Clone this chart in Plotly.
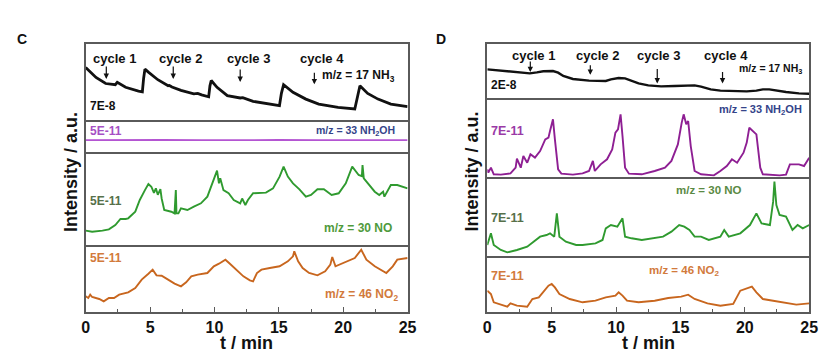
import plotly.graph_objects as go

# ---------------- DATA (intensities in a.u., 0-100 per strip) ----------------
# Panel C
c_nh3_t = [0, 0.8, 1.55, 2.3, 2.45, 2.6, 3.1, 4.1, 4.4, 4.5, 4.6, 4.87, 5.6, 6.4, 6.5, 6.7, 7.4, 8.4, 8.7, 9.0, 9.55, 9.65, 9.75,
           10.2, 11, 12, 12.2, 13, 14, 15.05, 15.2, 15.37, 16.1, 17.1, 18.1, 19.6, 20.9, 21.1, 21.3, 21.9, 22.7, 23.7, 25]
c_nh3_v = [69, 56, 48, 46.5, 49.5, 48, 43, 38, 37, 55, 67, 63, 53, 45, 45.5, 43.5, 39, 34.5, 35, 33, 30.5, 45, 52,
           43, 32, 29, 29.5, 24.5, 22, 19, 35, 46.5, 36.5, 27.5, 21, 16.5, 14.5, 30, 45, 35, 27.5, 21, 17.5]

c_nh2oh_t = [0, 3, 6, 9, 12, 15, 18, 21, 25]
c_nh2oh_v = [37, 38, 37.5, 37, 38, 37.5, 37, 37.5, 37]

c_no_t = [0, 0.5, 1.3, 1.8, 2.3, 2.7, 3.1, 3.3, 3.85, 4.2, 4.6, 4.87, 5.1, 5.3, 5.45, 5.6, 5.8, 5.9, 6.1, 6.65, 6.9, 7.0,
          7.05, 7.2, 7.4, 7.9, 8.4, 8.95, 9.45, 9.85, 10.1, 10.2, 10.35, 10.45, 10.7, 11.1, 11.5, 12, 12.15, 12.4, 12.6,
          13, 14, 14.55, 15.06, 15.37, 15.7, 16.1, 16.6, 17.1, 17.5, 18, 18.5, 19.1, 19.65, 20.2, 20.7, 21.2, 21.45,
          21.5, 21.6, 21.9, 22.45, 22.8, 23.1, 23.2, 23.7, 24.2, 25]
c_no_v = [15.4, 14.3, 15.4, 16.8, 21.5, 28, 28, 28.7, 35.8, 48.4, 59, 65.6, 62.7, 56, 61, 54, 60, 50, 37.6, 35.8, 34, 59,
          34, 34, 39.4, 37.6, 41.2, 44.8, 52, 66.3, 75, 80, 66.3, 71.7, 59, 55.6, 48.4, 44.8, 50, 43, 48.4,
          55.6, 56.3, 60.9, 73.5, 84.2, 73.5, 66.3, 59.9, 52, 53.8, 59.9, 59.9, 53.8, 55.6, 66.3, 84.2, 75.3, 74,
          86, 71.7, 66.3, 57.3, 53.8, 57.3, 52, 64.5, 64.5, 60.9]

c_no2_t = [0, 0.2, 0.35, 0.5, 1.05, 1.4, 1.8, 2.2, 2.6, 3.3, 3.85, 4.35, 4.87, 5.2, 5.5, 5.9, 6.4, 6.9, 7.4, 7.8, 8.2, 8.7,
           9.45, 9.95, 10.35, 10.85, 11.2, 11.7, 12.25, 12.75, 13.0, 13.3, 13.65, 14.3, 15.06, 15.7, 16.1, 16.2, 16.5,
           16.85, 17.35, 18.0, 18.6, 19.0, 19.15, 19.4, 19.9, 20.4, 20.9, 21.4, 21.8, 22.45, 22.95, 23.35, 23.85, 24.2, 25]
c_no2_v = [23.4, 20.9, 25.9, 22.4, 19.4, 15.9, 20.9, 20.9, 25.9, 29.4, 35.8, 48.3, 57.2, 63.2, 54.7, 54.2, 48.3, 42.3, 38.3,
           44.3, 53.2, 55.7, 58.2, 68.2, 72.1, 78.1, 72.1, 63.2, 53.2, 47.3, 45.8, 58.2, 63.2, 65.7, 68.2, 75.6, 83.1,
           90.5, 75.6, 65.7, 58.2, 54.7, 60.7, 70.6, 82.1, 68.2, 72.1, 75.6, 80.6, 93.0, 78.1, 68.2, 63.2, 58.2, 68.2,
           78.1, 80.6]

# Panel D
d_nh3_t = [0, 1.05, 2.3, 3.3, 3.85, 4.35, 5.1, 5.5, 5.9, 6.65, 7.9, 9.2, 9.6, 10.2, 10.7, 11.1, 11.75, 12.5, 13.5, 14.55,
           15.6, 16.1, 16.6, 17.35, 18.1, 19.1, 20.15, 20.9, 21.4, 21.9, 22.45, 23.2, 24.2, 25]
d_nh3_v = [53.1, 50.6, 47.5, 45.7, 47.5, 49.4, 50.0, 46.9, 40.7, 35.2, 32.1, 31.5, 34.6, 37.0, 36.4, 33.3, 27.1, 23.4, 21.6,
           22.2, 22.8, 23.4, 21.0, 16.0, 13.6, 12.3, 12.3, 13.6, 16.0, 16.0, 13.6, 11.1, 8.6, 8.0]

d_nh2oh_t = [0, 0.08, 0.28, 0.5, 1.05, 1.8, 2.2, 2.3, 2.6, 2.8, 3.1, 3.35, 3.7, 4.1, 4.5, 4.75, 4.87, 5.1, 5.25, 5.5, 5.75,
             6.65, 7.4, 7.9, 8.2, 8.35, 8.8, 9.3, 9.7, 9.95, 10.15, 10.35, 10.5, 10.7, 11.0, 12.0, 13.0, 13.8, 14.3, 14.8,
             15.1, 15.25, 15.45, 15.6, 15.8, 16.1, 16.6, 17.6, 18.1, 18.6, 19.0, 19.4, 19.9, 20.15, 20.35, 20.65, 20.9,
             21.2, 21.4, 22.7, 23.2, 23.5, 24.2, 24.6, 25]
d_nh2oh_v = [9.7, 5.5, 11.8, 3.4, 3.0, 4.6, 11.8, 23.2, 11.8, 26.6, 18.1, 28.7, 24.5, 32.9, 47.7, 49.8, 58.2, 73.0, 47.7,
             9.7, 4.2, 3.0, 4.6, 7.6, 20.3, 7.6, 16.0, 22.4, 35.0, 56.1, 60.3, 79.3, 51.9, 11.8, 4.2, 3.4, 7.6, 11.8,
             20.3, 41.3, 68.8, 79.3, 66.7, 70.9, 39.2, 7.6, 3.4, 2.1, 7.6, 13.9, 22.4, 18.1, 30.8, 43.5, 62.4, 58.2,
             54.0, 11.8, 3.4, 2.1, 3.0, 16.0, 16.0, 13.9, 24.5]

d_no_t = [0, 0.28, 0.5, 1.05, 1.55, 2.3, 3.1, 3.6, 4.1, 4.6, 4.87, 5.2, 5.4, 5.6, 6.1, 6.9, 7.4, 8.4, 8.95, 9.2, 9.6,
          10.1, 10.5, 10.7, 11.2, 12.0, 13.0, 13.65, 14.3, 14.9, 15.3, 15.7, 16.1, 16.6, 17.2, 17.6, 18.1, 18.4, 18.75,
          19.65, 20.4, 20.9, 21.3, 21.95, 22.2, 22.3, 22.45, 22.7, 23.2, 23.7, 24.1, 24.5, 25]
d_no_v = [13.9, 28.7, 13.9, 7.6, 4.6, 7.6, 11.8, 18.1, 24.5, 26.6, 28.7, 24.5, 54.0, 24.5, 18.1, 13.9, 13.9, 16.0, 20.3,
          35.0, 39.2, 37.1, 47.7, 24.5, 22.4, 20.3, 22.4, 24.5, 30.8, 39.2, 37.1, 32.9, 24.5, 24.5, 20.3, 22.4, 24.5,
          32.9, 24.5, 28.7, 39.2, 54.0, 41.3, 39.2, 68.8, 94.1, 64.6, 51.9, 49.8, 32.9, 39.2, 35.0, 39.2]

d_no2_t = [0, 0.28, 0.5, 1.05, 1.55, 1.8, 2.3, 3.1, 3.5, 4.0, 4.35, 4.75, 5.0, 5.25, 5.6, 6.4, 7.4, 8.4, 9.2, 9.95,
           10.2, 10.5, 10.85, 11.75, 13.0, 14.05, 15.06, 15.6, 16.1, 17.1, 18.1, 19.1, 19.65, 20.15, 20.55, 20.9, 21.4,
           22.2, 23.2, 24.0, 25]
d_no2_v = [38.1, 32.1, 17.3, 13.1, 9.5, 15.5, 11.3, 9.5, 23.2, 26.2, 35.1, 47.0, 50.0, 44.0, 32.1, 23.2, 17.3, 20.2,
           26.2, 29.2, 35.1, 29.2, 20.2, 17.3, 20.2, 25.0, 27.4, 30.9, 23.2, 15.5, 11.3, 14.3, 38.1, 42.3, 45.2, 35.1,
           23.2, 20.2, 15.5, 13.1, 15.5]

x_ticks = [0, 5, 10, 15, 20, 25]
x_tick_labels = ["0", "5", "10", "15", "20", "25"]

# ---------------- LAYOUT ----------------
W, H = 830, 358
FONT = "Liberation Sans, Arial, sans-serif"
FRAME = "#5a5a5a"

def px(x):
    return x / W

def py(y):
    return 1 - y / H

panels = [
    dict(x0=83, x1=410, rows=[(44, 120), (120, 152), (152, 245), (245, 312)],
         series=[(c_nh3_t, c_nh3_v, "#111111", 2.8), (c_nh2oh_t, c_nh2oh_v, "#b455d2", 1.8),
                 (c_no_t, c_no_v, "#2f9a2f", 1.9), (c_no2_t, c_no2_v, "#c8661e", 1.9)]),
    dict(x0=491, x1=818, rows=[(44, 98), (98, 177), (177, 256), (256, 312)],
         series=[(d_nh3_t, d_nh3_v, "#111111", 2.4), (d_nh2oh_t, d_nh2oh_v, "#8e1f93", 1.9),
                 (d_no_t, d_no_v, "#2f9a2f", 1.9), (d_no2_t, d_no2_v, "#c8661e", 1.9)]),
]

fig = go.Figure()
layout = dict(width=W, height=H, margin=dict(l=0, r=0, t=0, b=0, pad=0), paper_bgcolor="white",
              plot_bgcolor="white", showlegend=False, font=dict(family=FONT, color="#111"))

idx = 0
for p in panels:
    for r, ((top, bot), (t, v, col, lw)) in enumerate(zip(p["rows"], p["series"])):
        idx += 1
        xa = "xaxis" if idx == 1 else f"xaxis{idx}"
        ya = "yaxis" if idx == 1 else f"yaxis{idx}"
        xr = "x" if idx == 1 else f"x{idx}"
        yr = "y" if idx == 1 else f"y{idx}"
        fig.add_trace(go.Scatter(x=t, y=v, mode="lines", line=dict(color=col, width=lw),
                                 xaxis=xr, yaxis=yr, hoverinfo="skip"))
        bottom = (r == 3)
        layout[xa] = dict(domain=[px(p["x0"]), px(p["x1"])], anchor=yr, range=[0, 25],
                          showline=True, mirror=(r == 0), linecolor=FRAME, linewidth=1.5,
                          showgrid=False, zeroline=False, fixedrange=True,
                          tickmode="array", tickvals=x_ticks, ticktext=x_tick_labels,
                          showticklabels=bottom,
                          ticks="inside" if bottom else "", ticklen=5, tickwidth=1.3, tickcolor=FRAME,
                          tickfont=dict(family=FONT, size=16, color="#111", weight="bold"))
        if bottom:
            layout[xa]["minor"] = dict(tickvals=[2.5, 7.5, 12.5, 17.5, 22.5], ticks="inside",
                                       ticklen=3, tickwidth=1.2, tickcolor=FRAME)
        layout[ya] = dict(domain=[py(bot), py(top)], anchor=xr, range=[0, 100],
                          showline=True, mirror=True, linecolor=FRAME, linewidth=1.5,
                          showgrid=False, zeroline=False, showticklabels=False, ticks="",
                          fixedrange=True)

fig.update_layout(**layout)

anns = []

def txt(x, y, s, color="#111", size=11, xanchor="center", yanchor="middle", angle=0):
    anns.append(dict(x=px(x), y=py(y), xref="paper", yref="paper", text=s, showarrow=False,
                     xanchor=xanchor, yanchor=yanchor, textangle=angle,
                     font=dict(family=FONT, size=size, color=color, weight="bold")))

def arrow(axis_idx, t, v, ay):
    xr = "x" if axis_idx == 1 else f"x{axis_idx}"
    yr = "y" if axis_idx == 1 else f"y{axis_idx}"
    anns.append(dict(x=t, y=v, xref=xr, yref=yr, text="", showarrow=True, ax=0, ay=ay,
                     arrowhead=2, arrowsize=0.9, arrowwidth=1.2, arrowcolor="#111"))

# panel letters
txt(18, 39, "C", size=14)
txt(444, 39, "D", size=14)

# panel C labels
for s, x in [("cycle 1", 112), ("cycle 2", 179), ("cycle 3", 248), ("cycle 4", 323)]:
    txt(x, 58, s, size=13)
arrow(1, 1.6, 54, -14)
arrow(1, 6.8, 54, -14)
arrow(1, 12.0, 50, -14)
arrow(1, 17.76, 47, -13)
txt(399, 76, "m/z = 17 NH<sub>3</sub>", size=12, xanchor="right")
txt(85, 106, "7E-8", size=12, xanchor="left")
txt(85, 131, "5E-11", color="#a64fc4", size=12, xanchor="left")
txt(399, 131, "m/z = 33 NH<sub>2</sub>OH", color="#34448a", size=10.5, xanchor="right")
txt(85, 201, "5E-11", color="#56704a", size=12, xanchor="left")
txt(396, 228, "m/z = 30 NO", color="#4f9a3c", size=12, xanchor="right")
txt(85, 258, "5E-11", color="#d27a3c", size=12, xanchor="left")
txt(402, 295, "m/z = 46 NO<sub>2</sub>", color="#d27a3c", size=12, xanchor="right")

# panel D labels
for s, x in [("cycle 1", 538), ("cycle 2", 603), ("cycle 3", 665), ("cycle 4", 733)]:
    txt(x, 55, s, size=13)
arrow(5, 3.34, 48, -12)
arrow(5, 8.0, 43, -11)
arrow(5, 13.2, 27, -16)
arrow(5, 18.27, 27, -13)
txt(813, 69, "m/z = 17 NH<sub>3</sub>", size=10.5, xanchor="right")
txt(493, 85, "2E-8", size=12, xanchor="left")
txt(813, 110, "m/z = 33 NH<sub>2</sub>OH", color="#34448a", size=11, xanchor="right")
txt(493, 131, "7E-11", color="#9a3aa6", size=12.5, xanchor="left")
txt(716, 190, "m/z = 30 NO", color="#5a8a44", size=11.5, xanchor="center")
txt(493, 218, "7E-11", color="#56704a", size=12.5, xanchor="left")
txt(493, 276, "7E-11", color="#d27a3c", size=12.5, xanchor="left")
txt(691, 271, "m/z = 46 NO<sub>2</sub>", color="#d27a3c", size=11.5, xanchor="center")

# axis titles
txt(246, 343, "t / min", size=18)
txt(655, 343, "t / min", size=18)
txt(68, 172, "Intensity / a.u.", size=18, angle=-90)
txt(475, 172, "Intensity / a.u.", size=18, angle=-90)

fig.update_layout(annotations=anns)
fig.write_html("out.html", config={"displayModeBar": False},
               post_script="document.body.style.margin='0';document.body.style.padding='0';")
